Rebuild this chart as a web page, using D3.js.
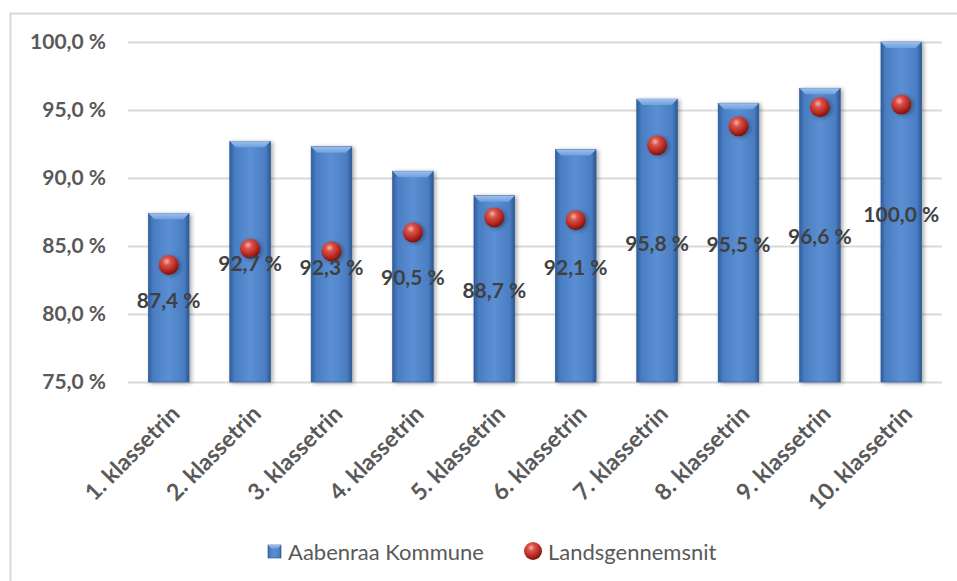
<!DOCTYPE html>
<html>
<head>
<meta charset="utf-8">
<script src="https://cdn.jsdelivr.net/npm/d3@7"></script>
<style>
  body { margin: 0; background: #fff; }
  svg { display: block; font-family: Lato, "Open Sans", sans-serif; }
</style>
</head>
<body>
<div id="chart"></div>
<script>
const WIDTH = 957
const HEIGHT = 581

// Data
const categories = ['1. klassetrin', '2. klassetrin', '3. klassetrin', '4. klassetrin', '5. klassetrin',
    '6. klassetrin', '7. klassetrin', '8. klassetrin', '9. klassetrin', '10. klassetrin']
const kommune = [87.4, 92.7, 92.3, 90.5, 88.7, 92.1, 95.8, 95.5, 96.6, 100.0]
const landsgennemsnit = [83.6, 84.8, 84.6, 86.0, 87.1, 86.9, 92.4, 93.8, 95.2, 95.4]
const yTicks = [75, 80, 85, 90, 95, 100]

// Where Excel happened to put each data label (in axis units)
const labelAnchors = [81.0, 83.7, 83.4, 82.7, 81.7, 83.4, 85.2, 85.1, 85.7, 87.3]

const margin = { left: 128, right: 15, top: 42, bottom: 199 }
const TEXT_GREY = '#595959'
const LABEL_GREY = '#404040'

const fmt = v => d3.format('.1f')(v).replace('.', ',') + ' %'

const svg = d3.select('#chart').append('svg')
    .attr('width', WIDTH)
    .attr('height', HEIGHT)

const defs = svg.append('defs')

// bar body: darker at the edges, lighter in the middle
const barGrad = defs.append('linearGradient').attr('id', 'barGrad')
    .attr('x1', '0%').attr('x2', '100%').attr('y1', '0%').attr('y2', '0%')
barGrad.append('stop').attr('offset', '0%').attr('stop-color', '#2f5e9e')
barGrad.append('stop').attr('offset', '12%').attr('stop-color', '#4a7dc2')
barGrad.append('stop').attr('offset', '50%').attr('stop-color', '#5b8fd3')
barGrad.append('stop').attr('offset', '88%').attr('stop-color', '#4a7dc2')
barGrad.append('stop').attr('offset', '100%').attr('stop-color', '#2c5894')

const bevelGrad = defs.append('linearGradient').attr('id', 'bevelGrad')
    .attr('x1', '0%').attr('x2', '0%').attr('y1', '0%').attr('y2', '100%')
bevelGrad.append('stop').attr('offset', '0%').attr('stop-color', '#9cc0ee')
bevelGrad.append('stop').attr('offset', '100%').attr('stop-color', '#6f9fdc')

const ballGrad = defs.append('radialGradient').attr('id', 'ballGrad')
    .attr('cx', '40%').attr('cy', '32%').attr('r', '65%')
ballGrad.append('stop').attr('offset', '0%').attr('stop-color', '#f7b3ad')
ballGrad.append('stop').attr('offset', '30%').attr('stop-color', '#d9534b')
ballGrad.append('stop').attr('offset', '75%').attr('stop-color', '#b3261f')
ballGrad.append('stop').attr('offset', '100%').attr('stop-color', '#7d1611')

const shadow = defs.append('filter').attr('id', 'shadow')
    .attr('x', '-30%').attr('y', '-10%').attr('width', '160%').attr('height', '130%')
shadow.append('feDropShadow').attr('dx', 2).attr('dy', 1).attr('stdDeviation', 2)
    .attr('flood-color', '#000').attr('flood-opacity', 0.35)

// chart frame (only top and left edges show in the crop)
svg.append('path')
    .attr('d', `M${WIDTH},13.5H10.5V${HEIGHT}`)
    .attr('fill', 'none')
    .attr('stroke', '#d9d9d9')
    .attr('stroke-width', 2)

const x = d3.scaleBand()
    .domain(categories)
    .range([margin.left, WIDTH - margin.right])
    .paddingInner(0.5)
    .paddingOuter(0.25)

const y = d3.scaleLinear()
    .domain([75, 100])
    .range([HEIGHT - margin.bottom, margin.top])

// grid lines
svg.append('g')
    .selectAll('line')
    .data(yTicks)
    .join('line')
    .attr('x1', margin.left)
    .attr('x2', WIDTH - margin.right)
    .attr('y1', d => Math.round(y(d)) + 0.5)
    .attr('y2', d => Math.round(y(d)) + 0.5)
    .attr('stroke', '#d9d9d9')
    .attr('stroke-width', 2)

// y axis labels
const yAxis = svg.append('g')
    .attr('transform', `translate(${margin.left - 22},0)`)
    .call(d3.axisLeft(y).tickValues(yTicks).tickFormat(fmt).tickSize(0).tickPadding(0))
yAxis.select('.domain').remove()
yAxis.selectAll('text')
    .attr('fill', TEXT_GREY)
    .attr('font-size', 21)
    .attr('font-weight', 'bold')
    .attr('font-family', 'Lato, sans-serif')

// bars
const bars = svg.append('g')
    .selectAll('g')
    .data(kommune)
    .join('g')
    .attr('filter', 'url(#shadow)')

bars.append('rect')
    .attr('x', (d, i) => x(categories[i]))
    .attr('y', d => y(d))
    .attr('width', x.bandwidth())
    .attr('height', d => y(75) - y(d))
    .attr('fill', 'url(#barGrad)')
    .attr('stroke', '#2a5590')
    .attr('stroke-width', 0.6)

// bevelled top facet
bars.append('path')
    .attr('d', (d, i) => {
        const x0 = x(categories[i])
        const w = x.bandwidth()
        const y0 = y(d)
        const b = 6
        return `M${x0},${y0}H${x0 + w}L${x0 + w - b},${y0 + b}H${x0 + b}Z`
    })
    .attr('fill', 'url(#bevelGrad)')

// national average balls
svg.append('g')
    .selectAll('circle')
    .data(landsgennemsnit)
    .join('circle')
    .attr('cx', (d, i) => x(categories[i]) + x.bandwidth() / 2)
    .attr('cy', d => y(d))
    .attr('r', 10)
    .attr('fill', 'url(#ballGrad)')
    .attr('filter', 'url(#shadow)')

// data labels for the bars
svg.append('g')
    .selectAll('text')
    .data(kommune)
    .join('text')
    .attr('x', (d, i) => x(categories[i]) + x.bandwidth() / 2)
    .attr('y', (d, i) => y(labelAnchors[i]))
    .attr('dy', '0.35em')
    .attr('text-anchor', 'middle')
    .attr('fill', LABEL_GREY)
    .attr('font-size', 21)
    .attr('font-weight', 'bold')
    .text(fmt)

// category labels, rotated
svg.append('g')
    .selectAll('text')
    .data(categories)
    .join('text')
    .attr('transform', d => `translate(${x(d) + x.bandwidth() / 2 + 1},${y(75) + 22}) rotate(-45)`)
    .attr('text-anchor', 'end')
    .attr('dy', '0.7em')
    .attr('fill', TEXT_GREY)
    .attr('font-size', 23)
    .attr('font-weight', 'bold')
    .text(d => d)

// legend
const legend = svg.append('g').attr('transform', 'translate(268,552)')
legend.append('rect')
    .attr('x', 0).attr('y', -7)
    .attr('width', 13).attr('height', 13)
    .attr('fill', 'url(#barGrad)')
    .attr('stroke', '#2a5590')
    .attr('stroke-width', 0.6)
legend.append('path')
    .attr('d', 'M0,-7H13L9.5,-3.5H3.5Z')
    .attr('fill', 'url(#bevelGrad)')
legend.append('text')
    .attr('x', 20).attr('dy', '0.35em')
    .attr('fill', TEXT_GREY)
    .attr('font-size', 22)
    .text('Aabenraa Kommune')
legend.append('circle')
    .attr('cx', 265).attr('cy', -1).attr('r', 9)
    .attr('fill', 'url(#ballGrad)')
legend.append('text')
    .attr('x', 280).attr('dy', '0.35em')
    .attr('fill', TEXT_GREY)
    .attr('font-size', 22)
    .text('Landsgennemsnit')
</script>
</body>
</html>
